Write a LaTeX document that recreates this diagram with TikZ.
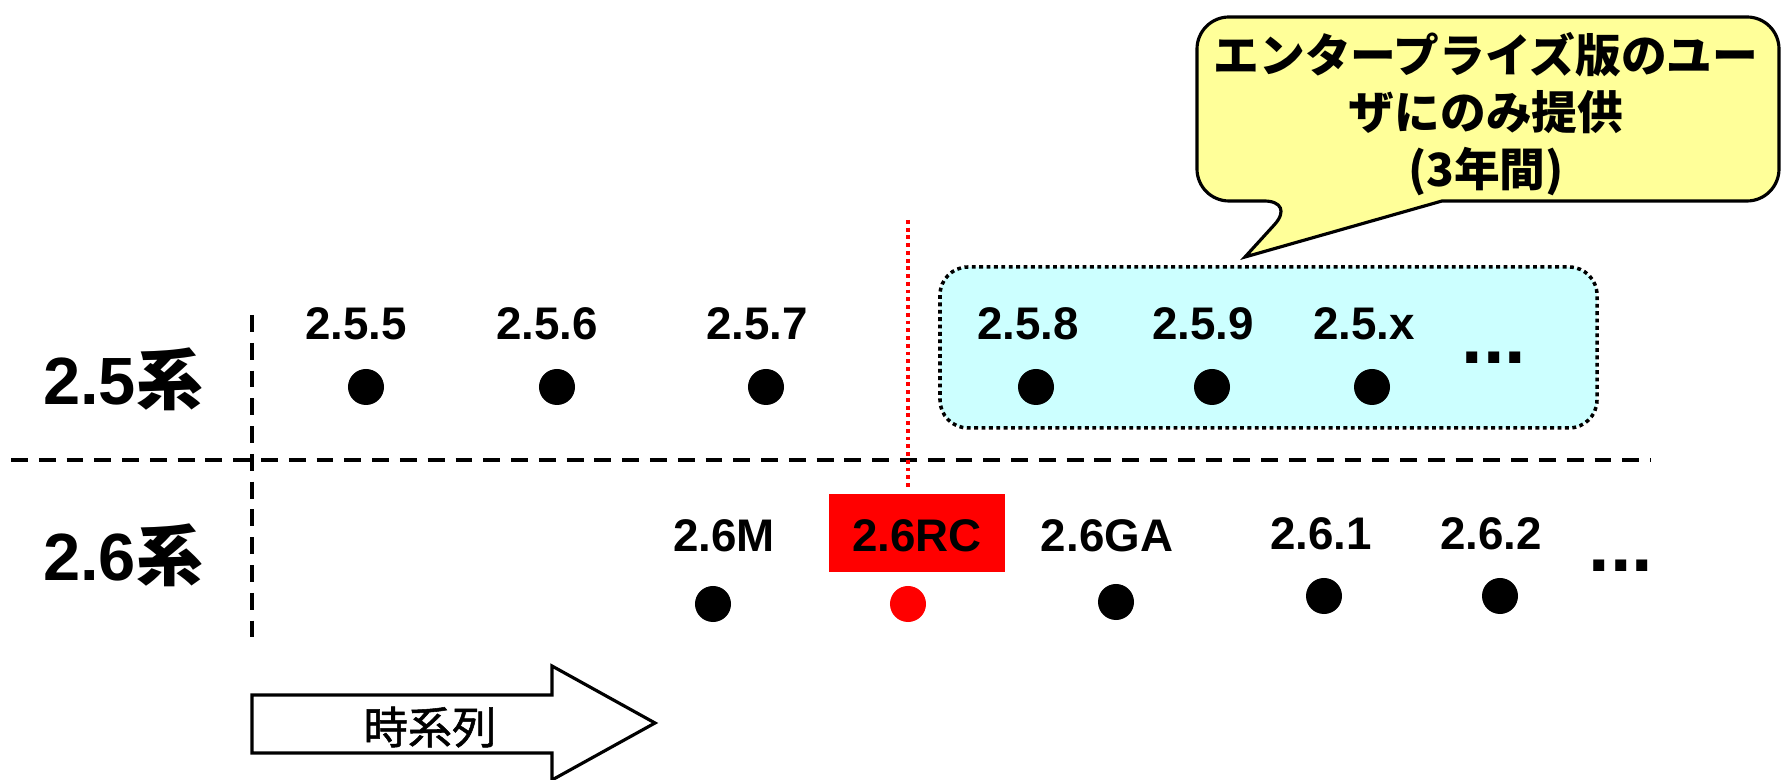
\documentclass[tikz,border=0pt]{standalone}
\usepackage{fontspec}
\setmainfont{Liberation Sans}
\newfontfamily\jp{Noto Sans CJK JP}
\newfontfamily\jpmid[FakeBold=1.2]{Noto Sans CJK JP}
\definecolor{balloon}{RGB}{255,255,153}
\definecolor{paleblue}{RGB}{204,255,255}
\begin{document}
\begin{tikzpicture}[x=0.01cm,y=-0.01cm,
	ver/.style={anchor=base,inner sep=0pt,font=\fontsize{13}{15}\selectfont\bfseries},
	rel/.style={circle,fill=black,inner sep=0pt,minimum size=0.36cm},
	series/.style={anchor=base,inner sep=0pt,font=\fontsize{19}{22}\selectfont\bfseries},
	more/.style={anchor=base,inner sep=0pt,font=\fontsize{22}{24}\selectfont\bfseries},
	border/.style={line width=1pt,dash pattern=on 4.8pt off 3.1pt}]
		\useasboundingbox (0,0) rectangle (1784,780);
		% balloon
		\draw[line width=0.9pt,fill=balloon] (1442,201) [rounded corners=0.32cm] -- (1779,201) -- (1779,17) -- (1197,17) -- (1197,201) -- (1296,201) [sharp corners] -- (1245,257) -- cycle;
		\node[align=center,font=\jp\bfseries\fontsize{13}{16.2}\selectfont] (note) at (1486,114) {エンタープライズ版のユー\\ザにのみ提供\\(3年間)};
		% enterprise box
		\draw[fill=paleblue,line width=1pt,dash pattern=on 1.1pt off 1pt,rounded corners=0.28cm] (940,267) rectangle (1597,428);
		% grid
		\draw[border] (11,460) -- (1651,460);
		\draw[border] (252,315) -- (252,640);
		\draw[red,line width=1.1pt,dash pattern=on 1.1pt off 1.1pt] (908,220) -- (908,490);
		\node[series] (s25) at (123,405) {2.5{\jp 系}};
		\node[series] (s26) at (123,581) {2.6{\jp 系}};
		% 2.5
		\node[ver] (v255) at (356,340) {2.5.5};
		\node[ver] (v256) at (547,340) {2.5.6};
		\node[ver] (v257) at (757,340) {2.5.7};
		\node[ver] (v258) at (1028,340) {2.5.8};
		\node[ver] (v259) at (1203,340) {2.5.9};
		\node[ver] (v25x) at (1364,340) {2.5.x};
		\node[more] (m25) at (1494,364) {...};
		\node[rel] (d255) at (366,387) {};
		\node[rel] (d256) at (557,387) {};
		\node[rel] (d257) at (766,387) {};
		\node[rel] (d258) at (1036,387) {};
		\node[rel] (d259) at (1212,387) {};
		\node[rel] (d25x) at (1372,387) {};
		% 2.6
		\node[ver] (v26m) at (724,552) {2.6M};
		\node[fill=red,minimum width=1.75cm,minimum height=0.77cm,inner sep=0pt] (rcbox) at (917,533) {};
		\node[ver] (v26rc) at (917,552) {2.6RC};
		\node[ver] (v26ga) at (1107,552) {2.6GA};
		\node[ver] (v261) at (1321,550) {2.6.1};
		\node[ver] (v262) at (1491,550) {2.6.2};
		\node[more] (m26) at (1621,572) {...};
		\node[rel] (d26m) at (713,604) {};
		\node[rel,fill=red] (d26rc) at (908,604) {};
		\node[rel] (d26ga) at (1116,602) {};
		\node[rel] (d261) at (1324,596) {};
		\node[rel] (d262) at (1500,596) {};
		% time arrow
		\draw[line width=0.9pt,fill=white] (252,695) -- (552,695) -- (552,666) -- (655,723) -- (552,780) -- (552,753) -- (252,753) -- cycle;
		\node[font=\jpmid\fontsize{12.6}{14}\selectfont] (time) at (430,727) {時系列};
\end{tikzpicture}
\end{document}
